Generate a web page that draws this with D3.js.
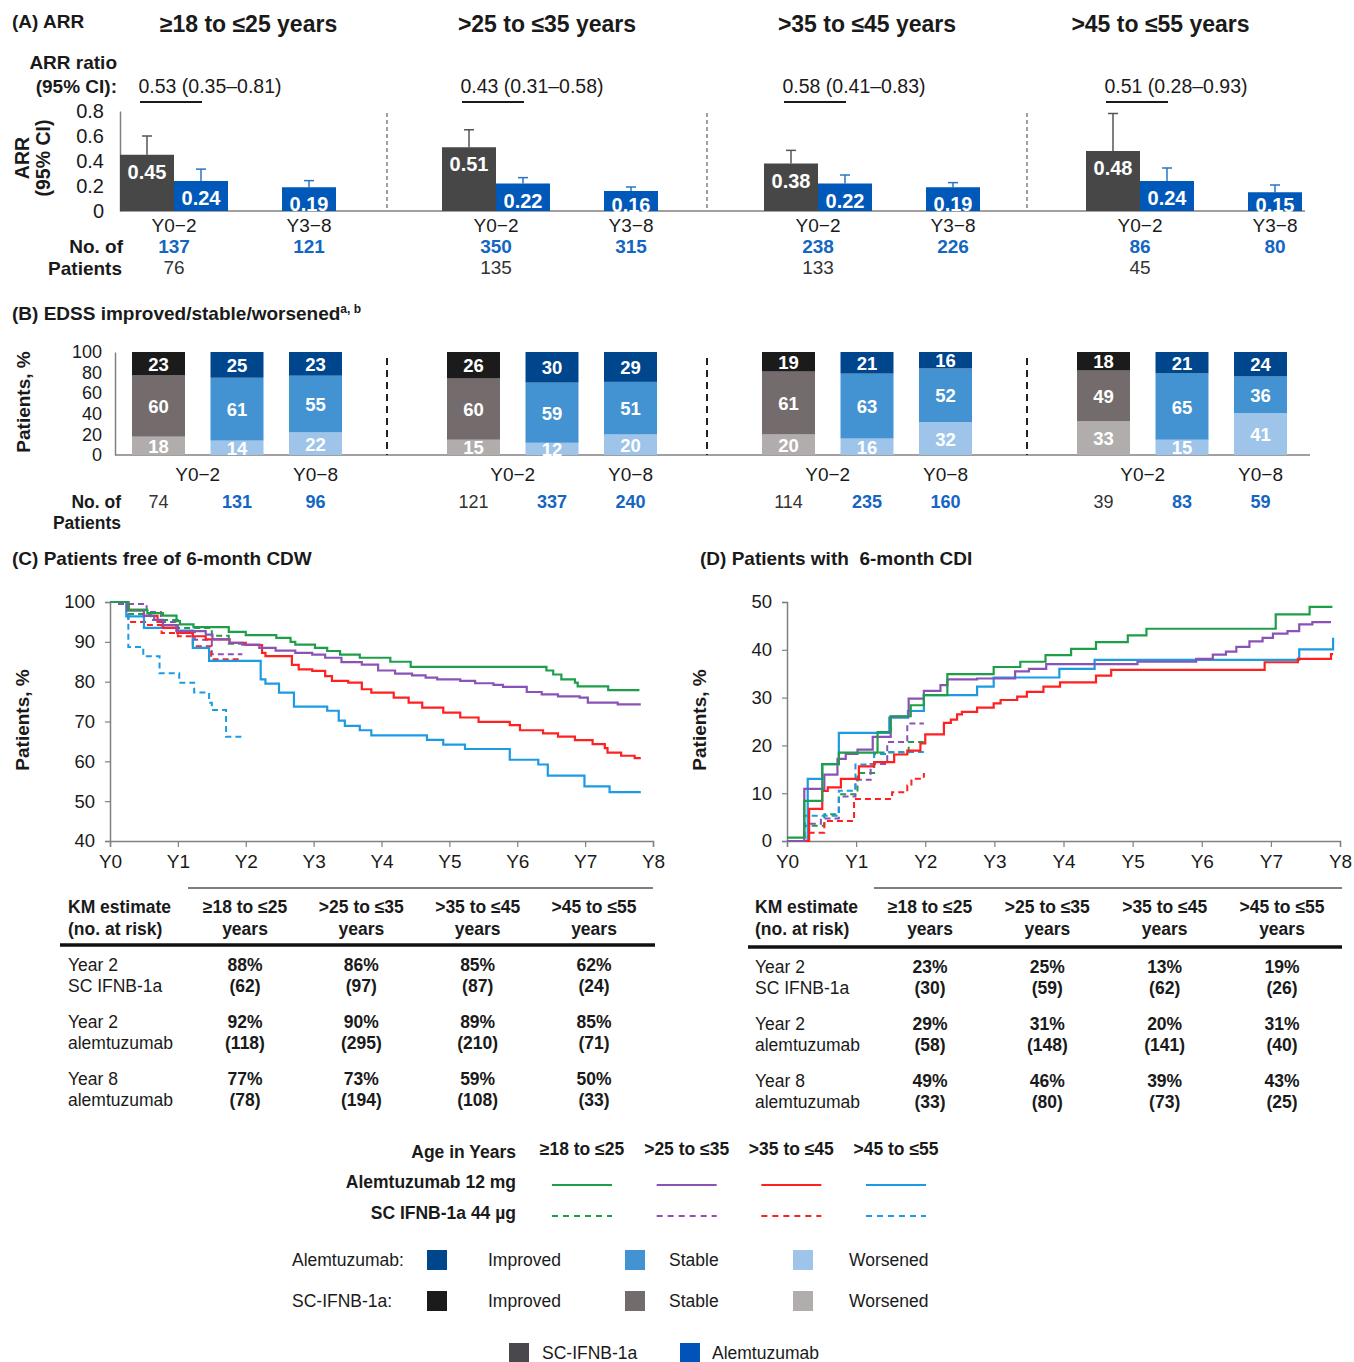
<!DOCTYPE html>
<html>
<head>
<meta charset="utf-8">
<script src="https://cdnjs.cloudflare.com/ajax/libs/d3/7.8.5/d3.min.js"></script>
<style>
body { margin: 0; background: #fff; }
svg text { font-family: "Liberation Sans", Arial, sans-serif; }
</style>
</head>
<body>
<div id="chart"></div>
<script>
// ---- data ----
const ageGroups = ["≥18 to ≤25 years", ">25 to ≤35 years", ">35 to ≤45 years", ">45 to ≤55 years"];
const ageShort = ["≥18 to ≤25", ">25 to ≤35", ">35 to ≤45", ">45 to ≤55"];

// (A) ARR
const arrRatio = ["0.53 (0.35–0.81)", "0.43 (0.31–0.58)", "0.58 (0.41–0.83)", "0.51 (0.28–0.93)"];
const arrSC = [0.45, 0.51, 0.38, 0.48];
const arrSCHi = [0.60, 0.65, 0.485, 0.78];
const arrAlem02 = [0.24, 0.22, 0.22, 0.24];
const arrAlem02Hi = [0.335, 0.267, 0.288, 0.344];
const arrAlem38 = [0.19, 0.16, 0.19, 0.15];
const arrAlem38Hi = [0.243, 0.192, 0.227, 0.208];
const nArrAlem02 = [137, 350, 238, 86];
const nArrSC = [76, 135, 133, 45];
const nArrAlem38 = [121, 315, 226, 80];
const arrTicks = [0, 0.2, 0.4, 0.6, 0.8];

// (B) EDSS  [improved, stable, worsened]
const edssSC = [[23, 60, 18], [26, 60, 15], [19, 61, 20], [18, 49, 33]];
const edssAlem02 = [[25, 61, 14], [30, 59, 12], [21, 63, 16], [21, 65, 15]];
const edssAlem08 = [[23, 55, 22], [29, 51, 20], [16, 52, 32], [24, 36, 41]];
const nEdssSC = [74, 121, 114, 39];
const nEdssAlem02 = [131, 337, 235, 83];
const nEdssAlem08 = [96, 240, 160, 59];
const edssTicks = [0, 20, 40, 60, 80, 100];

// (C) free of 6-month CDW, KM step points [year, %]
const cdwAlem1825 = [[0,100],[0.27,98],[0.55,97.2],[0.78,96.6],[0.98,95.2],[1.03,94.4],[1.23,93.7],[1.75,92.5],[2.0,91.7],[2.45,91],[2.66,90],[2.73,89.3],[3.02,88.5],[3.2,87.7],[3.39,86.8],[3.68,86],[4.13,85],[4.43,83.7],[6.43,82.8],[6.53,81.8],[6.65,80.6],[6.85,79.75],[6.89,78.8],[7.34,77.9],[7.8,77.9]];
const cdwAlem2535 = [[0,100],[0.25,97.8],[0.5,96.5],[0.65,95.5],[0.78,94.2],[0.98,92.7],[1.41,91.8],[1.51,90.6],[1.76,89.75],[1.95,89.3],[2.2,88.5],[2.44,87.8],[2.73,87.25],[2.98,86.8],[3.17,86],[3.41,84.9],[3.71,84.3],[3.95,82.8],[4.2,82],[4.45,81.6],[4.65,81],[4.82,80.6],[5.16,80.2],[5.38,79.6],[5.65,79.2],[5.79,78.7],[6.14,77.4],[6.36,76.8],[6.6,76.3],[6.92,76],[7.04,74.75],[7.48,74.3],[7.82,74.3]];
const cdwAlem3545 = [[0,100],[0.27,98],[0.5,96.5],[0.7,95],[0.78,93.5],[0.99,92.25],[1.22,91.4],[1.41,90.6],[1.76,89.75],[2.0,89.2],[2.24,87.25],[2.29,86.4],[2.68,84.2],[2.78,83.1],[2.98,82.7],[3.17,81.4],[3.27,80.2],[3.51,79.75],[3.71,78.1],[3.85,77.25],[4.18,76],[4.4,74.75],[4.6,73.5],[4.91,72.25],[5.16,71],[5.43,69.9],[5.89,69.1],[6.04,67.8],[6.38,67],[6.6,66.2],[6.85,65.3],[7.11,64.3],[7.29,63.3],[7.33,62.2],[7.53,61.4],[7.73,60.8],[7.82,60.8]];
const cdwAlem4555 = [[0,100],[0.24,96.4],[0.5,93.5],[0.98,92.8],[1.22,88.5],[1.46,85.2],[2.22,80.6],[2.29,79.5],[2.49,77.25],[2.71,73.75],[3.2,72.7],[3.37,70.2],[3.46,68.9],[3.68,67.8],[3.85,66.5],[4.67,65.4],[4.91,64.2],[5.23,63.1],[5.89,60.4],[6.31,59.2],[6.45,56.4],[6.99,53.7],[7.36,52.25],[7.82,52.25]];
const cdwSC1825 = [[0,100],[0.27,97],[0.6,95.5],[1.0,93.5],[1.5,91.5],[1.75,89.5],[1.95,89.5]];
const cdwSC2535 = [[0,100],[0.1,99.5],[0.54,97.5],[0.75,95],[1.0,92.5],[1.25,90.5],[1.5,86.9],[1.95,86.9]];
const cdwSC3545 = [[0,100],[0.27,95],[0.54,94.2],[0.76,92.2],[1.0,91.4],[1.22,88.9],[1.49,85.6],[1.93,85.6]];
const cdwSC4555 = [[0,100],[0.27,88.7],[0.49,86.4],[0.73,82.1],[1.02,79.75],[1.24,77.25],[1.46,74.7],[1.5,72.9],[1.71,66.2],[1.96,66.2]];

// (D) 6-month CDI, KM step points [year, %]
const cdiAlem1825 = [[0,0.7],[0.25,8.4],[0.51,16.1],[0.75,18.5],[1.31,22.8],[1.5,26.1],[1.79,28.4],[1.98,30.5],[2.32,34.9],[2.99,36.4],[3.375,37.5],[3.74,38.9],[4.11,40.2],[4.47,41.6],[4.93,43],[5.2,44.4],[7.07,47.4],[7.56,49],[7.89,49]];
const cdiAlem2535 = [[0,0],[0.25,10.9],[0.54,13.9],[0.73,17.2],[0.85,18.2],[1.02,19.1],[1.24,21.8],[1.5,26],[1.76,29.8],[1.98,31.4],[2.22,32.6],[2.32,33.8],[2.75,34],[3.3,35.5],[3.5,36],[3.75,37],[5.07,37.5],[5.92,38.1],[6.16,39],[6.35,39.6],[6.5,40.6],[6.69,41.75],[6.88,42.5],[7.03,43.4],[7.24,43.9],[7.41,45.3],[7.6,45.8],[7.87,45.8]];
const cdiAlem3545 = [[0,0],[0.32,6.7],[0.51,10.5],[0.59,11.2],[0.78,13],[1.04,15.6],[1.26,16.5],[1.55,18.1],[1.74,18.9],[1.93,20.4],[2.0,22.3],[2.27,24.7],[2.37,25.4],[2.46,26.5],[2.53,27],[2.75,27.9],[2.99,28.8],[3.09,29.5],[3.33,30.2],[3.47,31.2],[3.71,32.3],[3.95,33.2],[4.47,34.6],[4.69,35.8],[6.91,37.4],[7.39,38.1],[7.87,39.1],[7.9,39.1]];
const cdiAlem4555 = [[0,0],[0.3,13],[0.51,16.1],[0.75,22.6],[1.48,25.8],[1.75,27.2],[1.98,30.5],[2.75,32.3],[2.99,34.2],[3.94,36],[4.45,37.9],[7.41,40.1],[7.9,42.5]];
const cdiSC1825 = [[0,0],[0.25,3.2],[0.54,5.6],[0.75,9.8],[1.02,14.2],[1.26,18.5],[1.76,20.7],[1.98,20.7]];
const cdiSC2535 = [[0,0],[0.25,3.6],[0.49,4.7],[0.75,9.3],[0.99,12.8],[1.21,16.1],[1.45,20.7],[1.74,24.6],[1.98,24.6]];
const cdiSC3545 = [[0,0],[0.3,1.75],[0.54,4.2],[0.97,8.8],[1.52,10.2],[1.74,11.6],[1.8,13],[1.98,14.2]];
const cdiSC4555 = [[0,0],[0.25,5.3],[0.75,10.5],[0.99,16],[1.26,18.2],[1.45,18.6],[1.98,18.6]];

// KM tables
const kmRowLabels = [["Year 2", "SC IFNB-1a"], ["Year 2", "alemtuzumab"], ["Year 8", "alemtuzumab"]];
const cdwPct = [[88, 86, 85, 62], [92, 90, 89, 85], [77, 73, 59, 50]];
const cdwRisk = [[62, 97, 87, 24], [118, 295, 210, 71], [78, 194, 108, 33]];
const cdiPct = [[23, 25, 13, 19], [29, 31, 20, 31], [49, 46, 39, 43]];
const cdiRisk = [[30, 59, 62, 26], [58, 148, 141, 40], [33, 80, 73, 25]];

const yearTicks = [0, 1, 2, 3, 4, 5, 6, 7, 8];

// ---- colours ----
const ageColors = ["#1f9e4a", "#8b52b6", "#ff2020", "#1c9be4"];
const arrDark = "#474747";
const arrBlue = "#0059b8";
const numBlue = "#1466c2";
const edssColors = {
  sc: { improved: "#1b1b1b", stable: "#746c6c", worsened: "#b2adad" },
  alem: { improved: "#00468c", stable: "#4392d2", worsened: "#9ec4ea" }
};

const width = 1354, height = 1362;

const svg = d3.select("#chart")
  .append("svg")
  .attr("width", width)
  .attr("height", height);

svg.append("rect").attr("width", width).attr("height", height).attr("fill", "#fff");

function txt(g, x, y, s, opt = {}) {
  return g.append("text")
    .attr("x", x).attr("y", y)
    .attr("font-size", opt.size || 17)
    .attr("font-weight", opt.bold ? "bold" : null)
    .attr("text-anchor", opt.anchor || "start")
    .attr("fill", opt.color || "#1a1a1a")
    .text(s);
}

function rotText(g, x, y, s, size) {
  return g.append("text")
    .attr("transform", `translate(${x},${y}) rotate(-90)`)
    .attr("font-size", size || 19).attr("font-weight", "bold")
    .attr("text-anchor", "middle").attr("fill", "#1a1a1a")
    .text(s);
}

function styleAxis(ax, size) {
  ax.select(".domain").attr("stroke", "#808080").attr("stroke-width", 1.5);
  ax.selectAll(".tick line").attr("stroke", "#808080").attr("stroke-width", 1.2);
  ax.selectAll(".tick text").attr("font-size", size).attr("fill", "#1a1a1a").attr("font-family", null);
}

// sections shared by A and B
const section = d3.scaleBand().domain(ageGroups).range([67, 1347]);

// ================= (A) ARR =================
const gA = svg.append("g");
txt(gA, 12, 28, "(A) ARR", { bold: true, size: 19 });

ageGroups.forEach((g, i) => {
  let lo = Math.max(110, section(g));
  let hi = Math.min(1294, section(g) + section.step());
  txt(gA, (lo + hi) / 2, 32, g, { bold: true, size: 23, anchor: "middle" });
  if (i > 0) {
    gA.append("line")
      .attr("x1", section(g)).attr("x2", section(g))
      .attr("y1", 113).attr("y2", 211)
      .attr("stroke", "#444").attr("stroke-dasharray", "4,3");
  }
});

txt(gA, 117, 69, "ARR ratio", { bold: true, size: 19, anchor: "end" });
txt(gA, 117, 93, "(95% CI):", { bold: true, size: 19, anchor: "end" });

const xA = d3.scaleBand().domain(ageGroups).range([120, 120 + 4 * 322]);
const subA = d3.scaleBand().domain(["sc", "a02", "gap", "a38"]).range([0, 216]);
const yA = d3.scaleLinear().domain([0, 0.8]).range([211, 111]);

const axA = gA.append("g")
  .attr("transform", "translate(120,0)")
  .call(d3.axisLeft(yA).tickValues(arrTicks).tickSize(0).tickPadding(16)
    .tickFormat(d => d === 0 ? "0" : d3.format(".1f")(d)));
styleAxis(axA, 20);

gA.append("line")
  .attr("x1", 120).attr("x2", 1305).attr("y1", yA(0)).attr("y2", yA(0))
  .attr("stroke", "#808080").attr("stroke-width", 1.5);

rotText(gA, 29, 158, "ARR", 19.5);
rotText(gA, 50, 158, "(95% CI)", 19.5);

const arrBars = [];
ageGroups.forEach((g, i) => {
  arrBars.push({ g, key: "sc", v: arrSC[i], hi: arrSCHi[i], fill: arrDark, err: "#555" });
  arrBars.push({ g, key: "a02", v: arrAlem02[i], hi: arrAlem02Hi[i], fill: arrBlue, err: "#2a73c6" });
  arrBars.push({ g, key: "a38", v: arrAlem38[i], hi: arrAlem38Hi[i], fill: arrBlue, err: "#2a73c6" });
});

const bw = subA.bandwidth();
const barA = gA.selectAll(".arr")
  .data(arrBars)
  .enter()
  .append("g");

barA.append("line")
  .attr("x1", d => xA(d.g) + subA(d.key) + bw / 2)
  .attr("x2", d => xA(d.g) + subA(d.key) + bw / 2)
  .attr("y1", d => yA(d.v)).attr("y2", d => yA(d.hi))
  .attr("stroke", d => d.err).attr("stroke-width", 1.5);
barA.append("line")
  .attr("x1", d => xA(d.g) + subA(d.key) + bw / 2 - 5)
  .attr("x2", d => xA(d.g) + subA(d.key) + bw / 2 + 5)
  .attr("y1", d => yA(d.hi)).attr("y2", d => yA(d.hi))
  .attr("stroke", d => d.err).attr("stroke-width", 1.5);
barA.append("rect")
  .attr("x", d => xA(d.g) + subA(d.key))
  .attr("y", d => yA(d.v))
  .attr("width", bw)
  .attr("height", d => yA(0) - yA(d.v))
  .attr("fill", d => d.fill);
barA.append("text")
  .attr("x", d => xA(d.g) + subA(d.key) + bw / 2)
  .attr("y", d => Math.min(yA(d.v) + 24, yA(0) + 1))
  .attr("text-anchor", "middle")
  .attr("font-size", 20).attr("font-weight", "bold")
  .attr("fill", "#fff")
  .text(d => d3.format(".2f")(d.v));

ageGroups.forEach((g, i) => {
  let x0 = xA(g);
  txt(gA, x0 + 90, 93, arrRatio[i], { anchor: "middle", size: 19.5 });
  gA.append("line")
    .attr("x1", x0 + 20).attr("x2", x0 + 82)
    .attr("y1", 102).attr("y2", 102)
    .attr("stroke", "#1a1a1a").attr("stroke-width", 2);
  txt(gA, x0 + subA("a02"), 232, "Y0−2", { anchor: "middle", size: 19 });
  txt(gA, x0 + subA("a38") + bw / 2, 232, "Y3−8", { anchor: "middle", size: 19 });
  txt(gA, x0 + subA("a02"), 253, nArrAlem02[i], { anchor: "middle", bold: true, size: 19, color: numBlue });
  txt(gA, x0 + subA("a02"), 274, nArrSC[i], { anchor: "middle", size: 19, color: "#333" });
  txt(gA, x0 + subA("a38") + bw / 2, 253, nArrAlem38[i], { anchor: "middle", bold: true, size: 19, color: numBlue });
});
txt(gA, 123, 253, "No. of", { bold: true, size: 19, anchor: "end" });
txt(gA, 122, 275, "Patients", { bold: true, size: 19, anchor: "end" });

// ================= (B) EDSS =================
const gB = svg.append("g");
let titleB = txt(gB, 12, 320, "(B) EDSS improved/stable/worsened", { bold: true, size: 19 });
titleB.append("tspan").attr("font-size", 12).attr("dy", -7).text("a, b");

const xB = d3.scaleBand().domain(ageGroups).range([132, 132 + 4 * 315]);
const subB = d3.scaleBand().domain(["sc", "a02", "a08"]).range([0, 210]).paddingInner(0.325);
const yB = d3.scaleLinear().domain([0, 100]).range([455, 352]);

const axB = gB.append("g")
  .attr("transform", "translate(115,0)")
  .call(d3.axisLeft(yB).tickValues(edssTicks).tickSize(0).tickPadding(13));
styleAxis(axB, 18);

gB.append("line")
  .attr("x1", 115).attr("x2", 1310).attr("y1", yB(0)).attr("y2", yB(0))
  .attr("stroke", "#808080").attr("stroke-width", 1.5);

rotText(gB, 30, 402, "Patients, %");

ageGroups.forEach((g, i) => {
  if (i > 0) {
    gB.append("line")
      .attr("x1", section(g)).attr("x2", section(g))
      .attr("y1", 358).attr("y2", 455)
      .attr("stroke", "#222").attr("stroke-width", 2).attr("stroke-dasharray", "7,5");
  }
});

const edssRows = [];
ageGroups.forEach((g, i) => {
  [["sc", edssSC], ["a02", edssAlem02], ["a08", edssAlem08]].forEach(([k, arr]) => {
    edssRows.push({ g, k, improved: arr[i][0], stable: arr[i][1], worsened: arr[i][2] });
  });
});

const stack = d3.stack()
  .keys(["worsened", "stable", "improved"])
  .offset(d3.stackOffsetExpand);
const series = stack(edssRows);

const bwB = subB.bandwidth();
series.forEach(s => {
  let seg = gB.append("g").selectAll("g")
    .data(s)
    .enter()
    .append("g");
  seg.append("rect")
    .attr("x", d => xB(d.data.g) + subB(d.data.k))
    .attr("y", d => yB(d[1] * 100))
    .attr("width", bwB)
    .attr("height", d => yB(d[0] * 100) - yB(d[1] * 100))
    .attr("fill", d => edssColors[d.data.k === "sc" ? "sc" : "alem"][s.key]);
  seg.append("text")
    .attr("x", d => xB(d.data.g) + subB(d.data.k) + bwB / 2)
    .attr("y", d => (yB(d[0] * 100) + yB(d[1] * 100)) / 2 + 7)
    .attr("text-anchor", "middle")
    .attr("font-size", 18.5).attr("font-weight", "bold")
    .attr("fill", "#fff")
    .text(d => d.data[s.key]);
});

ageGroups.forEach((g, i) => {
  let x0 = xB(g);
  txt(gB, x0 + (subB("sc") + bwB + subB("a02")) / 2, 481, "Y0−2", { anchor: "middle", size: 19 });
  txt(gB, x0 + subB("a08") + bwB / 2, 481, "Y0−8", { anchor: "middle", size: 19 });
  txt(gB, x0 + subB("sc") + bwB / 2, 508, nEdssSC[i], { anchor: "middle", size: 18, color: "#333" });
  txt(gB, x0 + subB("a02") + bwB / 2, 508, nEdssAlem02[i], { anchor: "middle", bold: true, size: 18, color: numBlue });
  txt(gB, x0 + subB("a08") + bwB / 2, 508, nEdssAlem08[i], { anchor: "middle", bold: true, size: 18, color: numBlue });
});
txt(gB, 121, 508, "No. of", { bold: true, size: 17.5, anchor: "end" });
txt(gB, 121, 529, "Patients", { bold: true, size: 17.5, anchor: "end" });

// ================= (C) & (D) KM =================
function drawKM(opt) {
  const g = svg.append("g");
  txt(g, opt.titleX, 565, opt.title, { bold: true, size: 19 });

  const x = d3.scaleLinear().domain([0, 8]).range([opt.x0, opt.x1]);
  const y = d3.scaleLinear().domain(opt.yDomain).range([841, 602]);

  const axY = g.append("g")
    .attr("transform", `translate(${opt.x0},0)`)
    .call(d3.axisLeft(y).tickValues(opt.yTicks).tickSize(5).tickPadding(10));
  styleAxis(axY, 18.5);
  const axX = g.append("g")
    .attr("transform", "translate(0,841)")
    .call(d3.axisBottom(x).tickValues(yearTicks).tickSize(6).tickPadding(8).tickFormat(d => "Y" + d));
  styleAxis(axX, 19);

  rotText(g, opt.x0 - 81, 720, "Patients, %");

  const line = d3.line()
    .x(d => x(d[0]))
    .y(d => y(d[1]))
    .curve(d3.curveStepAfter);

  opt.sc.forEach((c, i) => {
    g.append("path").datum(c)
      .attr("d", line).attr("fill", "none")
      .attr("stroke", ageColors[i]).attr("stroke-width", 2)
      .attr("stroke-dasharray", "6,4");
  });
  [3, 2, 1, 0].forEach(i => {
    g.append("path").datum(opt.alem[i])
      .attr("d", line).attr("fill", "none")
      .attr("stroke", ageColors[i]).attr("stroke-width", 2.2);
  });

  // table
  const col = d3.scalePoint().domain(ageShort).range(opt.cols);
  g.append("line")
    .attr("x1", opt.topLine[0]).attr("x2", opt.topLine[1])
    .attr("y1", 888).attr("y2", 888)
    .attr("stroke", "#555").attr("stroke-width", 1.5);
  g.append("line")
    .attr("x1", opt.thickLine[0]).attr("x2", opt.thickLine[1])
    .attr("y1", opt.thickY).attr("y2", opt.thickY)
    .attr("stroke", "#111").attr("stroke-width", 3.5);
  txt(g, opt.labelX, 913, "KM estimate", { bold: true, size: 17.5 });
  txt(g, opt.labelX, 935, "(no. at risk)", { bold: true, size: 17.5 });
  ageShort.forEach(a => {
    txt(g, col(a), 913, a, { bold: true, size: 17.5, anchor: "middle" });
    txt(g, col(a), 935, "years", { bold: true, size: 17.5, anchor: "middle" });
  });
  kmRowLabels.forEach((r, ri) => {
    let y0 = opt.rowY + ri * 57;
    txt(g, opt.labelX, y0, r[0], { size: 17.5 });
    txt(g, opt.labelX, y0 + 21, r[1], { size: 17.5 });
    ageShort.forEach((a, ci) => {
      txt(g, col(a), y0, opt.pct[ri][ci] + "%", { bold: true, size: 17.5, anchor: "middle" });
      txt(g, col(a), y0 + 21, "(" + opt.risk[ri][ci] + ")", { bold: true, size: 17.5, anchor: "middle" });
    });
  });
}

drawKM({
  title: "(C) Patients free of 6-month CDW", titleX: 12,
  x0: 110, x1: 653, yDomain: [40, 100], yTicks: [40, 50, 60, 70, 80, 90, 100],
  alem: [cdwAlem1825, cdwAlem2535, cdwAlem3545, cdwAlem4555],
  sc: [cdwSC1825, cdwSC2535, cdwSC3545, cdwSC4555],
  cols: [245, 594], topLine: [188, 653], thickLine: [60, 655], thickY: 945,
  labelX: 68, rowY: 971, pct: cdwPct, risk: cdwRisk
});

drawKM({
  title: "(D) Patients with\u00a0 6-month CDI", titleX: 700,
  x0: 787, x1: 1340, yDomain: [0, 50], yTicks: [0, 10, 20, 30, 40, 50],
  alem: [cdiAlem1825, cdiAlem2535, cdiAlem3545, cdiAlem4555],
  sc: [cdiSC1825, cdiSC2535, cdiSC3545, cdiSC4555],
  cols: [930, 1282], topLine: [874, 1342], thickLine: [748, 1342], thickY: 947,
  labelX: 755, rowY: 973, pct: cdiPct, risk: cdiRisk
});

// ================= legends =================
const gL = svg.append("g");
const legX = d3.scalePoint().domain(ageShort).range([582, 896]);
txt(gL, 516, 1158, "Age in Years", { bold: true, size: 17.5, anchor: "end" });
txt(gL, 516, 1188, "Alemtuzumab 12 mg", { bold: true, size: 17.5, anchor: "end" });
txt(gL, 516, 1219, "SC IFNB-1a 44 µg", { bold: true, size: 17.5, anchor: "end" });
ageShort.forEach((a, i) => {
  txt(gL, legX(a), 1155, a, { bold: true, size: 17.5, anchor: "middle" });
  gL.append("line")
    .attr("x1", legX(a) - 30).attr("x2", legX(a) + 30)
    .attr("y1", 1185).attr("y2", 1185)
    .attr("stroke", ageColors[i]).attr("stroke-width", 2.2);
  gL.append("line")
    .attr("x1", legX(a) - 30).attr("x2", legX(a) + 30)
    .attr("y1", 1216).attr("y2", 1216)
    .attr("stroke", ageColors[i]).attr("stroke-width", 2.2)
    .attr("stroke-dasharray", "6,5");
});

const edssKeys = ["improved", "stable", "worsened"];
const edssNames = ["Improved", "Stable", "Worsened"];
const swX = [427, 625, 793];
const nameX = [488, 669, 849];
[["alem", "Alemtuzumab:", 1250], ["sc", "SC-IFNB-1a:", 1291]].forEach(([k, lab, y0]) => {
  txt(gL, 292, y0 + 16, lab, { size: 17.5 });
  edssKeys.forEach((e, i) => {
    gL.append("rect").attr("x", swX[i]).attr("y", y0).attr("width", 20).attr("height", 20)
      .attr("fill", edssColors[k][e]);
    txt(gL, nameX[i], y0 + 16, edssNames[i], { size: 17.5 });
  });
});

gL.append("rect").attr("x", 509).attr("y", 1343).attr("width", 20).attr("height", 20).attr("fill", "#48484d");
txt(gL, 542, 1359, "SC-IFNB-1a", { size: 17.5 });
gL.append("rect").attr("x", 680).attr("y", 1343).attr("width", 20).attr("height", 20).attr("fill", "#0053b8");
txt(gL, 712, 1359, "Alemtuzumab", { size: 17.5 });
</script>
</body>
</html>
